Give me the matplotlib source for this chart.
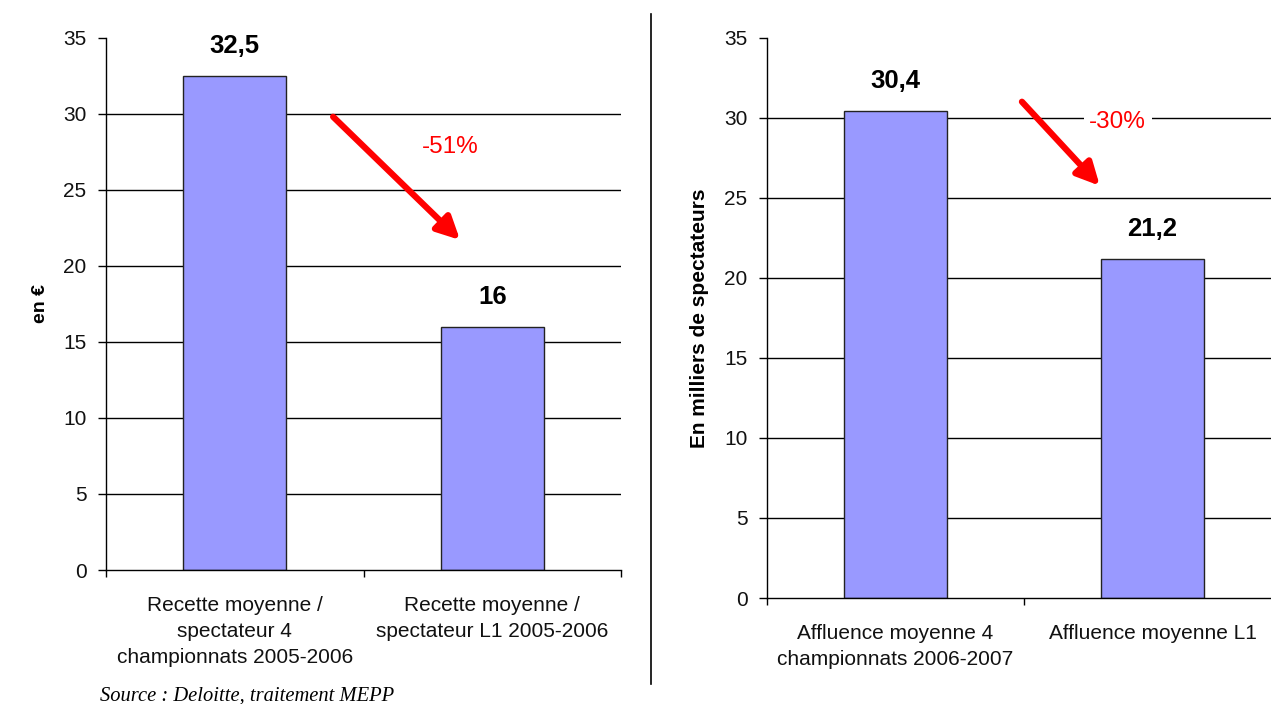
import matplotlib
matplotlib.use("Agg")
import matplotlib.pyplot as plt
from matplotlib.lines import Line2D

plt.rcParams['font.family'] = ['Liberation Sans', 'DejaVu Sans']

# ---- data ----
left_categories = ["Recette moyenne /\nspectateur 4\nchampionnats 2005-2006",
                   "Recette moyenne /\nspectateur L1 2005-2006"]
left_values = [32.5, 16.0]
left_labels = ["32,5", "16"]
left_ylabel = "en €"
left_change = "-51%"

right_categories = ["Affluence moyenne 4\nchampionnats 2006-2007",
                    "Affluence moyenne L1"]
right_values = [30.4, 21.2]
right_labels = ["30,4", "21,2"]
right_ylabel = "En milliers de spectateurs"
right_change = "-30%"

yticks = [0, 5, 10, 15, 20, 25, 30, 35]
source = "Source : Deloitte, traitement MEPP"

BAR_COLOR = "#9999FF"
W, H = 1271, 704
fig = plt.figure(figsize=(W / 100, H / 100), dpi=100)
fig.patch.set_facecolor("white")


def make_axes(rect, cats, vals, labels, ylabel, ylabel_size):
    ax = fig.add_axes(rect)
    ax.set_facecolor("none")
    x = list(range(len(cats)))
    ax.set_xlim(-0.5, len(cats) - 0.5)
    ax.set_ylim(0, 35)
    for yv in yticks[1:-1]:
        ax.axhline(yv, color="black", lw=1.0, zorder=0)
    ax.bar(x, vals, width=0.4, color=BAR_COLOR, edgecolor="#222222",
           linewidth=1.0, zorder=2)
    for xi, v, lab in zip(x, vals, labels):
        ax.annotate(lab, (xi, v), xytext=(0, 21.5), textcoords="offset points",
                    ha="center", va="center", fontsize=18.5, fontweight="bold",
                    color="black")
    ax.set_yticks(yticks)
    ax.set_yticklabels([str(t) for t in yticks])
    ax.tick_params(axis="y", direction="out", length=6, width=1, pad=8,
                   labelsize=15, colors="black", labelcolor="#111111")
    ax.set_xticks([-0.5 + i for i in range(len(cats) + 1)])
    ax.set_xticklabels([])
    ax.tick_params(axis="x", direction="out", length=5, width=1)
    ax.set_xticks(x, minor=True)
    ax.set_xticklabels(cats, minor=True, fontsize=15, linespacing=1.45,
                       color="#111111")
    ax.tick_params(axis="x", which="minor", length=0, pad=19)
    for s in ["top", "right"]:
        ax.spines[s].set_visible(False)
    for s in ["left", "bottom"]:
        ax.spines[s].set_color("black")
        ax.spines[s].set_linewidth(1.0)
    ax.set_ylabel(ylabel, fontsize=ylabel_size, fontweight="bold")
    return ax


axL = make_axes([106 / W, (H - 570) / H, 515 / W, 532.3 / H],
                left_categories, left_values, left_labels, left_ylabel, 14)
axL.yaxis.set_label_coords(-0.110, 0.5)
axR = make_axes([767 / W, (H - 598) / H, 514 / W, 560.3 / H],
                right_categories, right_values, right_labels, right_ylabel, 15)
axR.yaxis.set_label_coords(-0.113, 0.5)

arrow = dict(arrowstyle="-|>", color="#FF0000", lw=4.5, mutation_scale=34,
             shrinkA=0, shrinkB=0)
axL.annotate("", xy=(0.875, 21.7), xytext=(0.382, 29.8), arrowprops=arrow,
             zorder=5)
axL.text(0.836, 27.8, left_change, color="#FF0000", fontsize=17.5,
         ha="center", va="center")

axR.annotate("", xy=(0.795, 25.75), xytext=(0.492, 31.0), arrowprops=arrow,
             zorder=5)
axR.text(0.864, 29.75, right_change, color="#FF0000", fontsize=17.5,
         ha="center", va="center",
         bbox=dict(facecolor="white", edgecolor="none", pad=4), zorder=4)

# separator line
fig.add_artist(Line2D([651 / W, 651 / W], [(H - 684) / H, (H - 14) / H],
                      color="black", lw=1.2, transform=fig.transFigure))

fig.text(100 / W, (H - 696) / H, source, family=["Liberation Serif"],
         style="italic", fontsize=14.8, ha="left", va="center")

fig.savefig("out.png", dpi=100, facecolor="white")
